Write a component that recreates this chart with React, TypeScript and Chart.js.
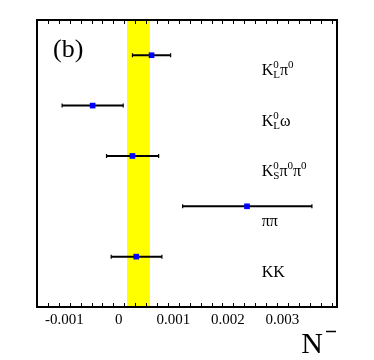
import React, { useEffect, useRef } from "react";
import { Chart, registerables } from "chart.js";

Chart.register(...registerables);

const channels = ["KLpi0", "KLomega", "KSpi0pi0", "pipi", "KK"];
const rowPos = [5, 4, 3, 2, 1];
const central = [0.0006, -0.00048, 0.00025, 0.00235, 0.00032];
const errLo = [0.00025, -0.00104, -0.000225, 0.00117, -0.00014];
const errHi = [0.00095, 0.00008, 0.00073, 0.00354, 0.00079];
const bandLo = 0.00015;
const bandHi = 0.00057;
const majorTicks = [-0.001, 0, 0.001, 0.002, 0.003];
const majorLabels = ["-0.001", "0", "0.001", "0.002", "0.003"];
const minorStep = 0.0002;
const xMin = -0.0015;
const xMax = 0.004;
const yMin = 0;
const yMax = 5.7;

// label parts: [main, sup, sub]
const labelParts: [string, string, string][][] = [
  [["K", "0", "L"], ["π", "0", ""]],
  [["K", "0", "L"], ["ω", "", ""]],
  [["K", "0", "S"], ["π", "0", ""], ["π", "0", ""]],
  [["ππ", "", ""]],
  [["KK", "", ""]],
];

const SERIF = "'Liberation Serif', 'DejaVu Serif', serif";

const overlay = {
  id: "overlay",
  beforeDatasetsDraw(chart: any) {
    const { ctx, chartArea, scales } = chart;
    const x = scales.x;
    ctx.save();
    ctx.fillStyle = "#ffff00";
    const x0 = x.getPixelForValue(bandLo);
    const x1 = x.getPixelForValue(bandHi);
    ctx.fillRect(x0, chartArea.top, x1 - x0, chartArea.bottom - chartArea.top);
    // error bars
    ctx.strokeStyle = "#000";
    for (let i = 0; i < central.length; i++) {
      const py = scales.y.getPixelForValue(rowPos[i]);
      const a = x.getPixelForValue(errLo[i]);
      const b = x.getPixelForValue(errHi[i]);
      ctx.lineWidth = 2;
      ctx.beginPath();
      ctx.moveTo(a, py);
      ctx.lineTo(b, py);
      ctx.stroke();
      ctx.lineWidth = 1.2;
      ctx.beginPath();
      ctx.moveTo(a, py - 2);
      ctx.lineTo(a, py + 2);
      ctx.moveTo(b, py - 2);
      ctx.lineTo(b, py + 2);
      ctx.stroke();
    }
    ctx.restore();
  },
  afterDatasetsDraw(chart: any) {
    const { ctx, chartArea, scales } = chart;
    const x = scales.x;
    const y = scales.y;
    ctx.save();
    // frame
    ctx.strokeStyle = "#000";
    ctx.lineWidth = 2;
    ctx.strokeRect(chartArea.left, chartArea.top, chartArea.right - chartArea.left, chartArea.bottom - chartArea.top);
    // ticks
    ctx.lineWidth = 1;
    ctx.beginPath();
    const nMinor = Math.round((xMax - xMin) / minorStep);
    for (let k = 0; k <= nMinor; k++) {
      const v = xMin + k * minorStep;
      const isMajor = Math.abs(v / 0.001 - Math.round(v / 0.001)) < 1e-6;
      const len = isMajor ? 8 : 4;
      const px = Math.round(x.getPixelForValue(v)) + 0.5;
      if (px <= chartArea.left + 1 || px >= chartArea.right - 1) continue;
      ctx.moveTo(px, chartArea.bottom);
      ctx.lineTo(px, chartArea.bottom - len);
      ctx.moveTo(px, chartArea.top);
      ctx.lineTo(px, chartArea.top + len);
    }
    ctx.stroke();
    // tick labels
    ctx.fillStyle = "#000";
    ctx.font = `15px ${SERIF}`;
    ctx.textAlign = "center";
    ctx.textBaseline = "alphabetic";
    for (let i = 0; i < majorTicks.length; i++) {
      ctx.fillText(majorLabels[i], x.getPixelForValue(majorTicks[i]), chartArea.bottom + 16.5);
    }
    // (b)
    ctx.textAlign = "left";
    ctx.font = `26px ${SERIF}`;
    ctx.fillText("(b)", chartArea.left + 16, chartArea.top + 37);
    // axis title
    ctx.font = `30px ${SERIF}`;
    ctx.textAlign = "right";
    ctx.fillText("N", chartArea.right - 14, chartArea.bottom + 46);
    ctx.lineWidth = 1.5;
    ctx.beginPath();
    ctx.moveTo(chartArea.right - 11, chartArea.bottom + 24.5);
    ctx.lineTo(chartArea.right - 1, chartArea.bottom + 24.5);
    ctx.stroke();
    // channel labels
    ctx.textAlign = "left";
    const lx = x.getPixelForValue(0.00262);
    for (let i = 0; i < labelParts.length; i++) {
      const by = y.getPixelForValue(rowPos[i] - 0.4);
      let cx = lx;
      for (const [main, sup, sub] of labelParts[i]) {
        ctx.font = `16px ${SERIF}`;
        ctx.fillText(main, cx, by);
        cx += ctx.measureText(main).width;
        ctx.font = `11px ${SERIF}`;
        let w = 0;
        if (sup) {
          ctx.fillText(sup, cx, by - 7);
          w = Math.max(w, ctx.measureText(sup).width);
        }
        if (sub) {
          ctx.fillText(sub, cx, by + 3);
          w = Math.max(w, ctx.measureText(sub).width);
        }
        cx += w;
      }
    }
    ctx.restore();
  },
};

export default function App() {
  const ref = useRef<HTMLCanvasElement>(null);
  useEffect(() => {
    const canvas = ref.current!;
    const chart = new Chart(canvas, {
      type: "scatter",
      data: {
        datasets: [
          {
            label: "N-",
            data: central.map((v, i) => ({ x: v, y: rowPos[i] })),
            pointStyle: "rect",
            pointRadius: 4,
            backgroundColor: "#0000ff",
            borderColor: "#0000ff",
            borderWidth: 0,
          },
        ],
      },
      options: {
        animation: false,
        responsive: false,
        maintainAspectRatio: false,
        layout: { padding: { left: 37, right: 37, top: 20, bottom: 53 } },
        plugins: { legend: { display: false }, tooltip: { enabled: false } },
        scales: {
          x: { type: "linear", min: xMin, max: xMax, display: false },
          y: { type: "linear", min: yMin, max: yMax, display: false },
        },
      },
      plugins: [overlay],
    });
    return () => chart.destroy();
  }, []);
  return (
    <div style={{ position: "fixed", left: 0, top: 0, width: 374, height: 360, background: "#fff" }}>
      <canvas ref={ref} width={374} height={360} style={{ width: 374, height: 360 }} />
    </div>
  );
}
